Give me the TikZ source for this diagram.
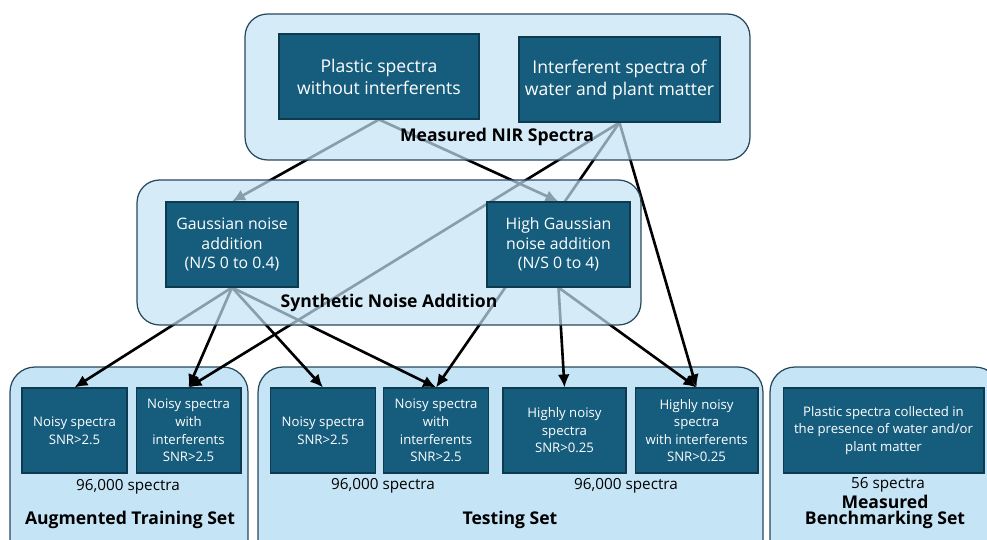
\documentclass[tikz,border=0pt]{standalone}
\usepackage[svgnames]{xcolor}
\usepackage{fontspec}
\setmainfont{Open Sans}
\usetikzlibrary{arrows.meta,positioning}
\definecolor{boxfill}{RGB}{22,93,125}
\definecolor{boxline}{RGB}{14,58,80}
\definecolor{stagefill}{RGB}{195,226,244}
\definecolor{setfill}{RGB}{197,228,245}
\definecolor{frameline}{RGB}{38,72,90}
\pgfdeclarelayer{sets}
\pgfdeclarelayer{links}
\pgfdeclarelayer{stages}
\pgfsetlayers{sets,links,stages,main}

\begin{document}
\begin{tikzpicture}[
  x=0.02cm, y=-0.02cm,
  stage/.style={draw=frameline, line width=0.7pt, rounded corners=0.45cm,
    fill=stagefill, fill opacity=0.7},
  dataset/.style={draw=frameline, line width=0.7pt, rounded corners=0.5cm,
    fill=setfill},
  spectra/.style={draw=boxline, line width=0.6pt, fill=boxfill, text=white,
    align=center, inner sep=1pt, minimum height=1.7cm,
    font=\fontsize{7.5}{10}\selectfont},
  source/.style={spectra, minimum width=4cm,
    font=\fontsize{10}{12.5}\selectfont},
  noise/.style={spectra, font=\fontsize{9}{11}\selectfont},
  title/.style={font=\fontsize{10}{11}\selectfont\bfseries, align=center},
  count/.style={font=\fontsize{8.7}{10}\selectfont},
  link/.style={line width=1.5pt, -{Latex[length=2.6mm,width=2.4mm]}}
]
\clip (0,0) rectangle (987,540);
\useasboundingbox (0,0) rectangle (987,540);

\begin{pgfonlayer}{stages}
\node[stage, minimum width=10.1cm, minimum height=2.92cm] (nir) at (497.5,87) {};
\node[stage, minimum width=10.08cm, minimum height=2.9cm] (synth) at (389,252.5) {};
\end{pgfonlayer}
\begin{pgfonlayer}{sets}
\node[dataset, minimum width=4.76cm, minimum height=4.2cm] (train) at (129,472) {};
\node[dataset, minimum width=10.1cm, minimum height=4.2cm] (test) at (510.5,472) {};
\node[dataset, minimum width=4.6cm, minimum height=4.2cm] (bench) at (885,472) {};
\end{pgfonlayer}

\node[source] (plastic) at (379,76.5) {Plastic spectra\\without interferents};
\node[source, minimum width=4.02cm] (interf) at (619.5,79.5) {Interferent spectra of\\water and plant matter};
\node[title] (nirlabel) at (497,137) {Measured NIR Spectra};

\node[noise, minimum width=2.64cm] (gauss) at (232,244.5) {Gaussian noise\\addition\\(N/S 0 to 0.4)};
\node[noise, minimum width=2.86cm] (hgauss) at (558.5,244.5) {High Gaussian\\noise addition\\(N/S 0 to 4)};
\node[title] (synthlabel) at (389,303) {Synthetic Noise Addition};

\node[spectra, minimum width=2.1cm] (noisya) at (74.5,430.5) {Noisy spectra\\SNR>2.5};
\node[spectra, minimum width=2.1cm, right=0.16cm of noisya] (mixa) {Noisy spectra\\with\\interferents\\SNR>2.5};
\node[spectra, minimum width=2.1cm] (noisyb) at (323,430.5) {Noisy spectra\\SNR>2.5};
\node[spectra, minimum width=2.1cm, right=0.14cm of noisyb] (mixb) {Noisy spectra\\with\\interferents\\SNR>2.5};
\node[spectra, minimum width=2.46cm] (high) at (564.5,430.5) {Highly noisy\\spectra\\SNR>0.25};
\node[spectra, minimum width=2.46cm, right=0.16cm of high] (highmix) {Highly noisy\\spectra\\with interferents\\SNR>0.25};
\node[spectra, minimum width=4.02cm] (real) at (883.5,430.5) {Plastic spectra collected in\\the presence of water and/or\\plant matter};

\node[count] (trainsize) at (128,487) {96,000 spectra};
\node[count] (testsize) at (383,486) {96,000 spectra};
\node[count] (highsize) at (626,486) {96,000 spectra};
\node[count] (benchsize) at (888,485) {56 spectra};
\node[title] (trainlabel) at (130,520) {Augmented Training Set};
\node[title] (testlabel) at (510,520) {Testing Set};
\node[title, font=\fontsize{10}{9}\selectfont\bfseries] (benchlabel) at (885,512) {Measured\\Benchmarking Set};

\begin{pgfonlayer}{links}
\draw[link] (plastic.south) -- (gauss.north);
\draw[link] (plastic.south) -- (hgauss.north);
\draw[link] (interf.south) -- (mixa.north);
\draw[link] (interf.south) -- (mixb.north);
\draw[link] (interf.south) -- (highmix.north);
\draw[link] (gauss.south) -- (noisya.north);
\draw[link] (gauss.south) -- (mixa.north);
\draw[link] (gauss.south) -- (noisyb.north);
\draw[link] (gauss.south) -- (mixb.north);
\draw[link] (hgauss.south) -- (high.north);
\draw[link] (hgauss.south) -- (highmix.north);
\end{pgfonlayer}
\end{tikzpicture}
\end{document}
